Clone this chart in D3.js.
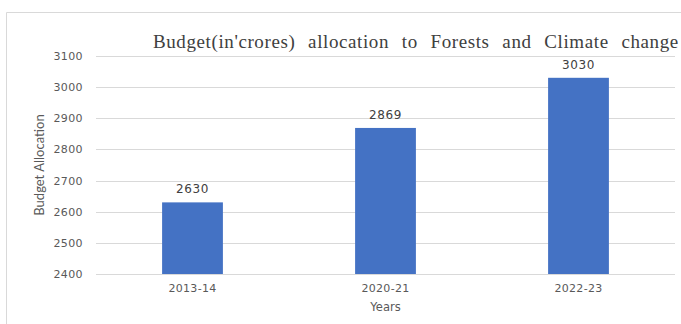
<!DOCTYPE html>
<html>
<head>
<meta charset="utf-8">
<script src="https://cdn.jsdelivr.net/npm/d3@7"></script>
<style>
  body { margin: 0; background: #fff; }
  svg { display: block; }
</style>
</head>
<body>
<svg id="chart"></svg>
<script>
const width = 681;
const height = 324;

// data
var years = ["2013-14", "2020-21", "2022-23"];
var budget = [2630, 2869, 3030];
var yTicks = [2400, 2500, 2600, 2700, 2800, 2900, 3000, 3100];

var labelFont = '"DejaVu Sans", "Open Sans", sans-serif';

var svg = d3.select('#chart')
  .attr('width', width)
  .attr('height', height);

// chart frame (cut off on the right and bottom like the screenshot)
svg.append('path')
  .attr('d', 'M6.5,' + height + 'V12.5H' + width)
  .attr('fill', 'none')
  .attr('stroke', '#d9d9d9');

var x = d3.scaleBand()
  .domain(years)
  .range([96, 675])
  .paddingInner(0.685)
  .paddingOuter(0.3425);

var y = d3.scaleLinear()
  .domain([2400, 3100])
  .range([274, 56]);

// gridlines
svg.append('g')
  .selectAll('line')
  .data(yTicks)
  .enter().append('line')
  .attr('x1', 96)
  .attr('x2', 675)
  .attr('y1', d => Math.round(y(d)) + 0.5)
  .attr('y2', d => Math.round(y(d)) + 0.5)
  .attr('stroke', '#d9d9d9');

// y axis labels
var yAxis = svg.append('g')
  .attr('transform', 'translate(83,0)')
  .call(d3.axisLeft(y).tickValues(yTicks).tickFormat(d3.format('d')).tickSize(0).tickPadding(0));
yAxis.select('.domain').remove();
yAxis.selectAll('text')
  .attr('fill', '#595959')
  .style('font-family', labelFont)
  .style('font-size', '11px')
  .style('letter-spacing', '0.4px');

// bars
svg.selectAll('rect.bar')
  .data(budget)
  .enter().append('rect')
  .attr('class', 'bar')
  .attr('x', (d, i) => x(years[i]))
  .attr('y', d => y(d))
  .attr('width', x.bandwidth())
  .attr('height', d => y(2400) - y(d))
  .attr('fill', '#4472c4');

// value labels
svg.selectAll('text.val')
  .data(budget)
  .enter().append('text')
  .attr('class', 'val')
  .attr('x', (d, i) => x(years[i]) + x.bandwidth() / 2)
  .attr('y', d => y(d) - 9)
  .attr('text-anchor', 'middle')
  .attr('fill', '#404040')
  .style('font-family', labelFont)
  .style('font-size', '12px')
  .style('letter-spacing', '0.6px')
  .text(d => d);

// x axis labels
var xAxis = svg.append('g')
  .attr('transform', 'translate(0,274)')
  .call(d3.axisBottom(x).tickSize(0).tickPadding(10));
xAxis.select('.domain').remove();
xAxis.selectAll('text')
  .attr('fill', '#595959')
  .style('font-family', labelFont)
  .style('font-size', '11px')
  .style('letter-spacing', '0.3px');

// axis titles
svg.append('text')
  .attr('x', 385.5)
  .attr('y', 311)
  .attr('text-anchor', 'middle')
  .attr('fill', '#595959')
  .style('font-family', labelFont)
  .style('font-size', '11.5px')
  .text('Years');

svg.append('text')
  .attr('transform', 'translate(44,165) rotate(-90)')
  .attr('text-anchor', 'middle')
  .attr('fill', '#595959')
  .style('font-family', 'Lato, "Open Sans", sans-serif')
  .style('font-size', '13px')
  .text('Budget Allocation');

// title
svg.append('text')
  .attr('x', 153)
  .attr('y', 48)
  .attr('fill', '#404040')
  .style('font-family', '"Liberation Serif", "DejaVu Serif", serif')
  .style('font-size', '19px')
  .style('letter-spacing', '0.6px')
  .style('word-spacing', '7.4px')
  .text("Budget(in'crores) allocation to Forests and Climate change");
</script>
</body>
</html>
